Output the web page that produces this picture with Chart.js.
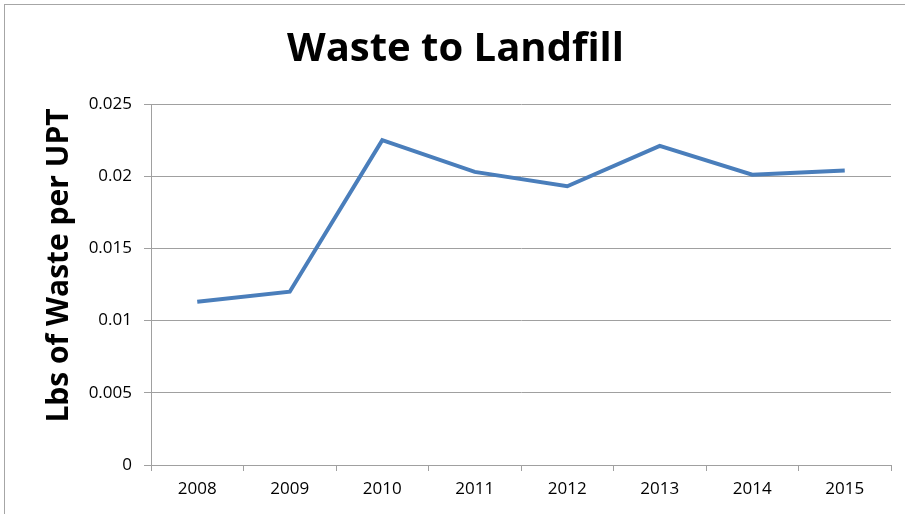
<!DOCTYPE html>
<html>
<head>
<meta charset="utf-8">
<script src="https://cdn.jsdelivr.net/npm/chart.js@4"></script>
<style>
  html, body { margin: 0; padding: 0; background: #fff; overflow: hidden; }
  #wrap { position: relative; width: 905px; height: 514px; }
  #frame { position: absolute; left: 4px; top: 4px; width: 920px; height: 530px; border: 1px solid #a6a6a6; box-sizing: border-box; pointer-events: none; }
</style>
</head>
<body>
<div id="wrap">
  <canvas id="chart" width="905" height="514"></canvas>
  <div id="frame"></div>
</div>
<script>
// Waste to Landfill, lbs per UPT
const years = ['2008', '2009', '2010', '2011', '2012', '2013', '2014', '2015'];
const wastePerUpt = [0.0113, 0.0120, 0.0225, 0.0203, 0.0193, 0.0221, 0.0201, 0.0204];
const yTicks = [0, 0.005, 0.01, 0.015, 0.02, 0.025];
const yAxisTitle = 'Lbs of Waste per UPT';

const font = "'Open Sans', 'Noto Sans', sans-serif";
const gridGray = '#a0a0a0';

// y title sits a little above the plot's middle, like the original
const yTitlePlugin = {
    id: 'yTitle',
    afterDraw(chart) {
        const { ctx, chartArea } = chart;
        ctx.save();
        ctx.translate(chartArea.left - 92, (chartArea.top + chartArea.bottom) / 2 - 19);
        ctx.rotate(-Math.PI / 2);
        ctx.font = `bold 30px ${font}`;
        ctx.fillStyle = '#000';
        ctx.textAlign = 'center';
        ctx.textBaseline = 'middle';
        ctx.fillText(yAxisTitle, 0, 0);
        ctx.restore();
    }
};

const ctx = document.getElementById('chart').getContext('2d');

const chart = new Chart(ctx, {
    type: 'line',
    data: {
        labels: years,
        datasets: [{
            label: yAxisTitle,
            data: wastePerUpt,
            borderColor: '#4a7ebb',
            borderWidth: 4,
            pointRadius: 0,
            tension: 0,
            fill: false
        }]
    },
    options: {
        responsive: false,
        animation: false,
        layout: {
            padding: { left: 20, right: 14, top: 0, bottom: 0 }
        },
        plugins: {
            legend: { display: false },
            tooltip: { enabled: false },
            title: {
                display: true,
                text: 'Waste to Landfill',
                color: '#000',
                font: { family: font, size: 40, weight: 'bold' },
                padding: { top: 26, bottom: 30 }
            }
        },
        scales: {
            x: {
                offset: true,
                grid: {
                    offset: true,
                    drawOnChartArea: false,
                    color: gridGray,
                    tickLength: 6
                },
                border: { color: gridGray, width: 1 },
                ticks: {
                    color: '#000',
                    font: { family: font, size: 17 },
                    padding: 8,
                    maxRotation: 0
                },
                afterFit: (scale) => { scale.height = 49; }
            },
            y: {
                min: 0,
                max: 0.025,
                afterBuildTicks: (scale) => {
                    scale.ticks = yTicks.map(v => ({ value: v }));
                },
                grid: {
                    color: gridGray,
                    tickLength: 7
                },
                border: { color: gridGray, width: 1 },
                ticks: {
                    color: '#000',
                    font: { family: font, size: 17 },
                    padding: 12,
                    callback: (v) => String(Number(v.toFixed(3)))
                },
                afterFit: (scale) => { scale.width = 131; }
            }
        }
    },
    plugins: [yTitlePlugin]
});
</script>
</body>
</html>
